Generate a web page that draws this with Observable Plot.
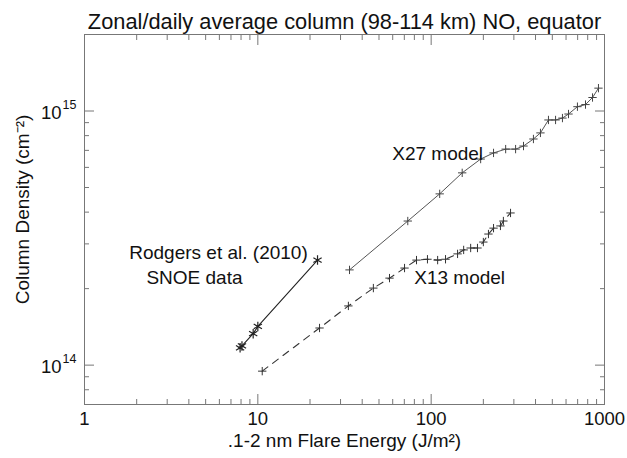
<!DOCTYPE html>
<html>
<head>
<meta charset="utf-8">
<script src="https://cdn.jsdelivr.net/npm/d3@7"></script>
<script src="https://cdn.jsdelivr.net/npm/@observablehq/plot@0.6"></script>
<style>
  body { margin: 0; background: #fff; }
  #chart svg { font-family: "Liberation Sans", Arial, Helvetica, sans-serif; }
</style>
</head>
<body>
<div id="chart"></div>
<script>
// Zonal/daily average NO column (98-114 km) at the equator versus 0.1-2 nm flare energy
const snoeEnergy = [7.9, 8.1, 9.4, 10.0, 22.1];
const snoeColumn = [1.17e14, 1.19e14, 1.33e14, 1.42e14, 2.59e14];

const x13Energy = [10.6, 22.7, 33.3, 46.4, 57.5, 70.2, 82.3, 95.2, 109, 121, 142, 154, 169, 185, 200, 214, 229, 251, 261, 287];
const x13Column = [9.47e13, 1.40e14, 1.71e14, 2.01e14, 2.20e14, 2.41e14, 2.59e14, 2.61e14, 2.59e14, 2.61e14, 2.74e14, 2.84e14, 2.89e14, 2.89e14, 3.05e14, 3.28e14, 3.46e14, 3.53e14, 3.69e14, 3.97e14];

const x27Energy = [33.8, 73.3, 112, 151, 193, 229, 269, 307, 341, 389, 427, 475, 522, 572, 620, 698, 777, 853, 923];
const x27Column = [2.37e14, 3.69e14, 4.72e14, 5.71e14, 6.47e14, 6.84e14, 7.08e14, 7.08e14, 7.28e14, 7.76e14, 8.2e14, 9.22e14, 9.22e14, 9.38e14, 9.73e14, 1.04e15, 1.06e15, 1.13e15, 1.23e15];

const xMajorTicks = [1, 10, 100, 1000];
const xMinorTicks = [2, 3, 4, 5, 6, 7, 8, 9, 20, 30, 40, 50, 60, 70, 80, 90, 200, 300, 400, 500, 600, 700, 800, 900];
const yMajorTicks = [1e14, 1e15];
const yMinorTicks = [8e13, 9e13, 2e14, 3e14, 4e14, 5e14, 6e14, 7e14, 8e14, 9e14];

const titleText = "Zonal/daily average column (98-114 km) NO, equator";
const xLabel = ".1-2 nm Flare Energy (J/m\u00B2)";
const yLabel = "Column Density (cm\u207B\u00B2)";

// label anchors, in data units (energy, column)
const annotationText = ["Rodgers et al. (2010)", "SNOE data", "X27 model", "X13 model"];
const annotationEnergy = [5.93, 4.31, 109, 146];
const annotationColumn = [2.76e14, 2.20e14, 6.78e14, 2.20e14];

const toRows = (xs, ys) => xs.map((e, i) => ({energy: e, column: ys[i]}));
const snoe = toRows(snoeEnergy, snoeColumn);
const x13 = toRows(x13Energy, x13Column);
const x27 = toRows(x27Energy, x27Column);
const annotations = annotationText.map((t, i) => ({text: t, energy: annotationEnergy[i], column: annotationColumn[i]}));

const axisColor = "#777";
const fs = 18.5;
const tickAxis = (make, anchor, ticks, size) =>
  make({anchor, ticks, tickSize: size, text: null, label: null, stroke: axisColor});

const chart = Plot.plot({
  width: 627,
  height: 458,
  marginTop: 34,
  marginBottom: 54,
  marginLeft: 84,
  marginRight: 23,
  style: {fontSize: `${fs}px`, color: "#222", background: "#fff"},
  x: {type: "log", domain: [1, 1000], axis: null, label: null},
  y: {type: "log", domain: [7e13, 2e15], axis: null, label: null},
  marks: [
    Plot.frame({stroke: axisColor}),
    // inward ticks on all four sides
    tickAxis(Plot.axisX, "bottom", xMajorTicks, -10),
    tickAxis(Plot.axisX, "bottom", xMinorTicks, -5),
    tickAxis(Plot.axisX, "top", xMajorTicks, -10),
    tickAxis(Plot.axisX, "top", xMinorTicks, -5),
    tickAxis(Plot.axisY, "left", yMajorTicks, -10),
    tickAxis(Plot.axisY, "left", yMinorTicks, -5),
    tickAxis(Plot.axisY, "right", yMajorTicks, -10),
    tickAxis(Plot.axisY, "right", yMinorTicks, -5),
    // tick labels
    Plot.text(xMajorTicks, {x: d => d, text: d => String(d), frameAnchor: "bottom", dy: 20, fontSize: fs, fill: "#111"}),
    Plot.text(yMajorTicks, {y: d => d, text: () => "10", frameAnchor: "left", textAnchor: "end", dx: -23, dy: 2, fontSize: fs, fill: "#111"}),
    Plot.text(yMajorTicks, {y: d => d, text: d => String(Math.round(Math.log10(d))), frameAnchor: "left", textAnchor: "start", dx: -22, dy: -6, fontSize: 12.5, fill: "#111"}),
    // axis titles and chart title
    Plot.text([xLabel], {text: d => d, frameAnchor: "bottom", dy: 42, fontSize: fs + 0.5, fill: "#111"}),
    Plot.text([yLabel], {text: d => d, frameAnchor: "left", textAnchor: "middle", rotate: -90, dx: -62, dy: -10, fontSize: fs + 0.5, fill: "#111"}),
    Plot.text([titleText], {text: d => d, frameAnchor: "top", dy: -21, fontSize: 21.8, fill: "#111"}),
    // series
    Plot.line(x27, {x: "energy", y: "column", stroke: "#555", strokeWidth: 1}),
    Plot.dot(x27, {x: "energy", y: "column", symbol: "plus", r: 2.8, stroke: "#444", strokeWidth: 1}),
    Plot.line(x13, {x: "energy", y: "column", stroke: "#333", strokeWidth: 1.1, strokeDasharray: "7,6"}),
    Plot.dot(x13, {x: "energy", y: "column", symbol: "plus", r: 2.8, stroke: "#333", strokeWidth: 1}),
    Plot.line(snoe, {x: "energy", y: "column", stroke: "#222", strokeWidth: 1.1}),
    Plot.dot(snoe, {x: "energy", y: "column", symbol: "asterisk", r: 4.5, stroke: "#222", strokeWidth: 1.2}),
    // series labels
    Plot.text(annotations, {x: "energy", y: "column", text: "text", fontSize: 19, fill: "#111"})
  ]
});

document.getElementById("chart").appendChild(chart);
</script>
</body>
</html>
